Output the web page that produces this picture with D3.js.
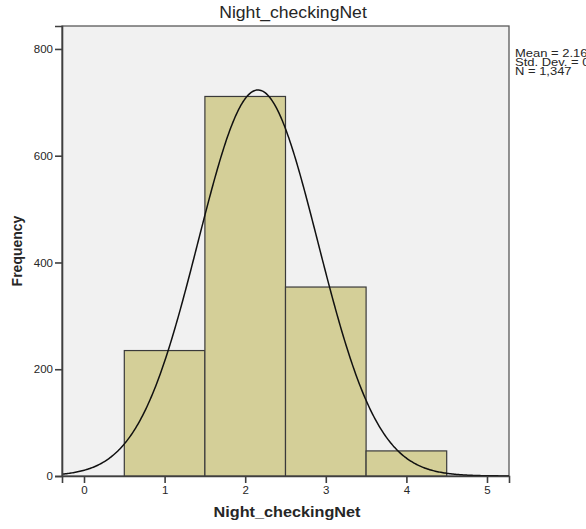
<!DOCTYPE html>
<html>
<head>
<meta charset="utf-8">
<script src="https://cdn.jsdelivr.net/npm/d3@7/dist/d3.min.js"></script>
<style>
  html, body { margin: 0; padding: 0; background: #fff; }
  svg { display: block; font-family: "Liberation Sans", Arial, sans-serif; }
</style>
</head>
<body>
<svg id="chart" width="586" height="529"></svg>
<script>
// Histogram of Night_checkingNet with fitted normal curve
const binCenters = [1, 2, 3, 4];
const frequencies = [235, 711, 354, 47];
const xTicks = [0, 1, 2, 3, 4, 5];
const yTicks = [0, 200, 400, 600, 800];
const titleText = "Night_checkingNet";
const xLabel = "Night_checkingNet";
const yLabel = "Frequency";

const W = 586, H = 529;
const frame = { left: 62, top: 26, right: 509, bottom: 476 };
const binWidth = 1;

// summary statistics from the binned counts
const N = d3.sum(frequencies);
const mean = d3.sum(binCenters, (c, i) => c * frequencies[i]) / N;
const ss = d3.sum(binCenters, (c, i) => frequencies[i] * (c - mean) ** 2);
const sd = Math.sqrt(ss / (N - 1));

const x = d3.scaleLinear().domain([-0.273, 5.273]).range([frame.left, frame.right]);
const y = d3.scaleLinear().domain([0, 843]).range([frame.bottom, frame.top]);

const svg = d3.select("#chart");
const textColor = "#262626";
const lineColor = "#3f3f3f";

// wide horizontal text: positioned by translate, stretched by scaleX
function wideText(sel, tx, ty, sx) {
  return sel.append("text")
    .attr("transform", `translate(${tx},${ty}) scale(${sx},1)`);
}

// plot area
svg.append("rect")
  .attr("x", frame.left).attr("y", frame.top)
  .attr("width", frame.right - frame.left)
  .attr("height", frame.bottom - frame.top)
  .attr("fill", "#f1f1f1")
  .attr("stroke", "#5a5a5a").attr("stroke-width", 1.3);

// bars
svg.append("g").selectAll("rect")
  .data(binCenters)
  .join("rect")
  .attr("x", d => x(d - binWidth / 2))
  .attr("width", d => x(d + binWidth / 2) - x(d - binWidth / 2))
  .attr("y", (d, i) => y(frequencies[i]))
  .attr("height", (d, i) => y(0) - y(frequencies[i]))
  .attr("fill", "#d4cf98")
  .attr("stroke", "#3a3a3a")
  .attr("stroke-width", 1.2);

// fitted normal curve
const pdf = v => N * binWidth / (sd * Math.sqrt(2 * Math.PI)) * Math.exp(-0.5 * ((v - mean) / sd) ** 2);
const curvePts = d3.range(0, 401).map(k => {
  const v = x.domain()[0] + (x.domain()[1] - x.domain()[0]) * k / 400;
  return [v, pdf(v)];
});
svg.append("path")
  .datum(curvePts)
  .attr("fill", "none")
  .attr("stroke", "#111")
  .attr("stroke-width", 1.5)
  .attr("d", d3.line().x(d => x(d[0])).y(d => y(d[1])));

// axes
const yAxis = svg.append("g")
  .attr("transform", `translate(${frame.left},0)`)
  .call(d3.axisLeft(y).tickValues(yTicks).tickSize(7).tickPadding(2).tickFormat(d3.format("d")));
const xAxis = svg.append("g")
  .attr("transform", `translate(0,${frame.bottom})`)
  .call(d3.axisBottom(x).tickValues(xTicks).tickSize(7).tickPadding(3).tickFormat(d3.format("d")));
[yAxis, xAxis].forEach(g => {
  g.select(".domain").attr("stroke", lineColor).attr("stroke-width", 1.6);
  g.selectAll(".tick line").attr("stroke", lineColor).attr("stroke-width", 1.6);
  g.selectAll(".tick text").attr("fill", textColor).attr("font-size", 11.5)
    .attr("font-family", "'Liberation Sans', Arial, sans-serif");
});

// title and axis labels
wideText(svg, W / 2, 18, 1.1)
  .attr("text-anchor", "middle")
  .attr("font-size", 16).attr("fill", textColor)
  .text(titleText);
wideText(svg, 287, 517, 1.12)
  .attr("text-anchor", "middle")
  .attr("font-size", 14.5).attr("font-weight", "bold").attr("fill", textColor)
  .text(xLabel);
svg.append("text")
  .attr("transform", `translate(22,${(frame.top + frame.bottom) / 2}) rotate(-90)`)
  .attr("text-anchor", "middle")
  .attr("font-size", 14).attr("font-weight", "bold").attr("fill", textColor)
  .text(yLabel);

// statistics box
const stats = [
  "Mean = " + mean.toFixed(2),
  "Std. Dev. = " + sd.toFixed(3),
  "N = " + d3.format(",")(N)
];
stats.forEach((s, i) => {
  wideText(svg, 515, 57 + i * 9, 1.18)
    .attr("font-size", 11)
    .attr("fill", textColor)
    .text(s);
});
</script>
</body>
</html>
